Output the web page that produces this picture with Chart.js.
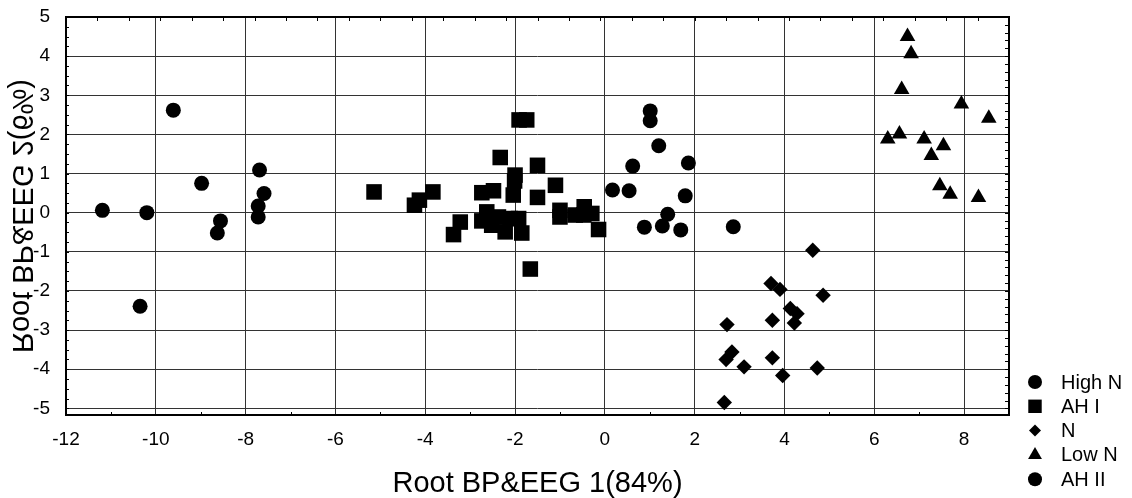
<!DOCTYPE html>
<html>
<head>
<meta charset="utf-8">
<script src="https://cdn.jsdelivr.net/npm/chart.js@4.4.1/dist/chart.umd.min.js"></script>
<style>
  html, body { margin: 0; padding: 0; background: #fff; }
  #wrap { width: 1132px; height: 498px; }
</style>
</head>
<body>
<div id="wrap"><canvas id="chart" width="1132" height="498"></canvas></div>
<script>
// Данные
const highNX = [-11.19, -10.20, -9.61, -8.98, -7.69, -7.59, -7.72, -7.72, -8.56, -8.63, -10.35];
const highNY = [0.06, 0.00, 2.62, 0.75, 1.09, 0.49, 0.17, -0.11, -0.21, -0.52, -2.39];

const ah1X = [-5.14, -4.24, -4.13, -3.83, -3.22, -3.37, -2.74, -2.48, -2.33, -2.63, -2.74, -2.52, -2.37,
              -2.22, -2.11, -1.92, -1.85, -2.04, -2.00, -2.01, -1.91, -1.74, -1.50, -1.50, -1.66, -1.10,
              -1.00, -1.00, -0.66, -0.46, -0.29, -0.14, -0.47];
const ah1Y = [0.53, 0.19, 0.32, 0.53, -0.24, -0.56, 0.51, 0.56, 1.41, 0.02, -0.21, -0.32, -0.11,
              -0.49, -0.15, -0.15, -0.52, 0.45, 0.96, 0.81, 2.37, 2.37, 1.21, 0.39, -1.44, 0.70,
              0.06, -0.11, -0.06, 0.15, -0.02, -0.43, -0.06];

const nX = [4.63, 3.70, 3.90, 4.86, 4.13, 4.28, 4.22, 3.73, 2.72, 2.83, 2.70, 3.10, 3.73, 3.96, 4.73, 2.66];
const nY = [-0.96, -1.81, -1.96, -2.11, -2.45, -2.58, -2.82, -2.75, -2.86, -3.56, -3.75, -3.94, -3.71, -4.16, -3.97, -4.85];

const lowNX = [6.74, 6.82, 6.61, 7.94, 8.55, 6.30, 6.56, 7.11, 7.54, 7.27, 7.46, 7.69, 8.32];
const lowNY = [4.50, 4.06, 3.15, 2.78, 2.41, 1.88, 2.01, 1.88, 1.71, 1.46, 0.69, 0.47, 0.39];

const ah2X = [1.01, 1.01, 1.20, 0.62, 1.86, 0.17, 0.54, 1.79, 1.40, 0.88, 1.28, 1.69, 2.86];
const ah2Y = [2.60, 2.35, 1.71, 1.19, 1.27, 0.58, 0.56, 0.43, -0.04, -0.37, -0.34, -0.44, -0.36];

const seriesNames = ['High N', 'AH I', 'N', 'Low N', 'AH II'];
const xTitle = 'Root BP&EEG 1(84%)';
const yTitle = 'Root BP&EEG 2(6%)';

const FONT = "'Liberation Sans', Arial, sans-serif";

function pts(xs, ys) {
    return xs.map((x, i) => ({ x: x, y: ys[i] }));
}

function ds(label, xs, ys, style, radius) {
    return {
        label: label,
        data: pts(xs, ys),
        pointStyle: style,
        pointRadius: radius,
        pointHoverRadius: radius,
        backgroundColor: '#000',
        borderColor: '#000',
        borderWidth: 0,
        showLine: false
    };
}

// рамка и мелкие засечки
const framePlugin = {
    id: 'frame',
    beforeDatasetsDraw(chart) {
        const { ctx, chartArea: a, scales: { x, y } } = chart;
        ctx.save();
        ctx.strokeStyle = '#000';
        ctx.lineWidth = 1;
        ctx.beginPath();
        // низ: нечётные значения
        for (let v = x.min + 1; v < x.max; v += 2) {
            const px = Math.round(x.getPixelForValue(v)) + 0.5;
            ctx.moveTo(px, a.bottom);
            ctx.lineTo(px, a.bottom - 3);
        }
        // верх: шаг 0.7
        for (let k = 1; x.min + k * 0.7 < x.max - 0.01; k++) {
            const px = Math.round(x.getPixelForValue(x.min + k * 0.7)) + 0.5;
            ctx.moveTo(px, a.top);
            ctx.lineTo(px, a.top + 4);
        }
        // лево: шаг 0.25
        for (let v = y.max; v > y.min; v -= 0.25) {
            const py = Math.round(y.getPixelForValue(v)) + 0.5;
            ctx.moveTo(a.left, py);
            ctx.lineTo(a.left + 3, py);
        }
        // право: шаг 0.2
        for (let v = y.max; v > y.min; v -= 0.2) {
            const py = Math.round(y.getPixelForValue(v)) + 0.5;
            ctx.moveTo(a.right, py);
            ctx.lineTo(a.right - 4, py);
        }
        ctx.stroke();
        ctx.lineWidth = 2;
        ctx.strokeRect(a.left, a.top, a.right - a.left, a.bottom - a.top);
        ctx.restore();
    }
};

// подпись оси Y (зеркальная, как в оригинале) и легенда
const extrasPlugin = {
    id: 'extras',
    afterDraw(chart) {
        const { ctx, chartArea: a } = chart;
        ctx.save();
        ctx.fillStyle = '#000';
        ctx.font = '29px ' + FONT;
        ctx.translate(21, (a.top + a.bottom) / 2);
        ctx.scale(-1, 1);
        ctx.rotate(-Math.PI / 2);
        ctx.textAlign = 'center';
        ctx.textBaseline = 'middle';
        ctx.fillText(yTitle, 0, 0);
        ctx.restore();

        ctx.save();
        ctx.fillStyle = '#000';
        ctx.strokeStyle = '#000';
        ctx.font = '20px ' + FONT;
        ctx.textAlign = 'left';
        ctx.textBaseline = 'middle';
        const sizes = { circle: 7, rect: 9.5, rectRot: 6, triangle: 8 };
        chart.data.datasets.forEach((d, i) => {
            const cy = 382 + i * 24.3;
            Chart.helpers.drawPoint(ctx, { pointStyle: d.pointStyle, radius: sizes[d.pointStyle], rotation: 0, borderWidth: 0 }, 1035, cy);
            ctx.fillText(d.label, 1061, cy + 1);
        });
        ctx.restore();
    }
};

const config = {
    type: 'scatter',
    data: {
        datasets: [
            ds(seriesNames[0], highNX, highNY, 'circle', 7.5),
            ds(seriesNames[1], ah1X, ah1Y, 'rect', 11),
            ds(seriesNames[2], nX, nY, 'rectRot', 7.7),
            ds(seriesNames[3], lowNX, lowNY, 'triangle', 9),
            ds(seriesNames[4], ah2X, ah2Y, 'circle', 7.5)
        ]
    },
    options: {
        responsive: false,
        animation: false,
        devicePixelRatio: 1,
        layout: { padding: { top: 17, right: 123, bottom: 0, left: 0 } },
        plugins: {
            legend: { display: false },
            tooltip: { enabled: false }
        },
        scales: {
            x: {
                type: 'linear',
                min: -12,
                max: 9,
                afterFit: s => { s.height = 83; s.paddingLeft = 0; s.paddingRight = 0; },
                ticks: { stepSize: 2, includeBounds: false, color: '#000', padding: 13, font: { family: FONT, size: 19 } },
                grid: { color: '#333', lineWidth: 1, drawTicks: false },
                border: { display: false },
                title: { display: true, text: xTitle, color: '#000', padding: 0, font: { family: FONT, size: 29, lineHeight: 1 } }
            },
            y: {
                type: 'linear',
                min: -5.17,
                max: 5,
                afterFit: s => { s.width = 66; s.paddingTop = 0; s.paddingBottom = 0; },
                ticks: { stepSize: 1, includeBounds: false, color: '#000', padding: 16, font: { family: FONT, size: 19 } },
                grid: { color: '#333', lineWidth: 1, drawTicks: false },
                border: { display: false }
            }
        }
    },
    plugins: [framePlugin, extrasPlugin]
};

new Chart(document.getElementById('chart').getContext('2d'), config);
</script>
</body>
</html>
